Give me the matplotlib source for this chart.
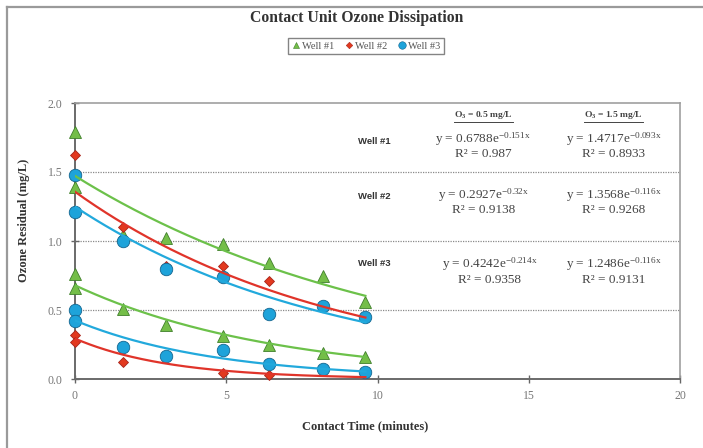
import numpy as np
import matplotlib
matplotlib.use("Agg")
import matplotlib.pyplot as plt
from matplotlib.lines import Line2D

# ---------------- data ----------------
title = "Contact Unit Ozone Dissipation"
series_names = ["Well #1", "Well #2", "Well #3"]

# Well #1 (two dose runs)
w1_high_x = [0, 0, 1.6, 3.0, 4.9, 6.4, 8.2, 9.6]
w1_high_y = [1.79, 1.39, 1.04, 1.02, 0.98, 0.84, 0.75, 0.56]
w1_low_x = [0, 0, 1.6, 3.0, 4.9, 6.4, 8.2, 9.6]
w1_low_y = [0.76, 0.66, 0.51, 0.39, 0.31, 0.25, 0.19, 0.16]

# Well #2
w2_high_x = [0, 1.6, 3.0, 4.9, 6.4, 8.2, 9.6]
w2_high_y = [1.62, 1.10, 0.82, 0.82, 0.71, 0.53, 0.44]
w2_low_x = [0, 0, 1.6, 4.9, 6.4]
w2_low_y = [0.32, 0.27, 0.12, 0.04, 0.03]

# Well #3
w3_high_x = [0, 0, 1.6, 3.0, 4.9, 6.4, 8.2, 9.6]
w3_high_y = [1.48, 1.21, 1.00, 0.80, 0.74, 0.47, 0.53, 0.45]
w3_low_x = [0, 0, 1.6, 3.0, 4.9, 6.4, 8.2, 9.6]
w3_low_y = [0.50, 0.42, 0.23, 0.17, 0.21, 0.11, 0.07, 0.05]

# exponential fit coefficients y = a * exp(b x) as printed on the chart
fit_low_a = [0.6788, 0.2927, 0.4242]
fit_low_b = [-0.151, -0.32, -0.214]
fit_low_r2 = ["0.987", "0.9138", "0.9358"]
fit_high_a = [1.4717, 1.3568, 1.2486]
fit_high_b = [-0.093, -0.116, -0.116]
fit_high_r2 = ["0.8933", "0.9268", "0.9131"]
fit_x_range = [0, 9.6]

dose_headers = ["0.5", "1.5"]
x_ticks = [0, 5, 10, 15, 20]
y_ticks = [0.0, 0.5, 1.0, 1.5, 2.0]

# ---------------- style ----------------
W, H = 703, 448
fig = plt.figure(figsize=(W / 100, H / 100), dpi=100)
serif = ["Liberation Serif", "DejaVu Serif"]
plt.rcParams["font.family"] = serif
plt.rcParams["mathtext.default"] = "regular"

ax = fig.add_axes([75 / W, 1 - 379 / H, 605 / W, 276 / H])
ax.set_xlim(0, 20)
ax.set_ylim(0, 2.0)

face = ["#74be48", "#e2391f", "#1ea3da"]
edge = ["#3f7f2a", "#a8241a", "#13658f"]
line_c = ["#6cc14a", "#e0342a", "#22a9dc"]
markers = ["^", "D", "o"]
msizes = [8, 5.5, 9]

data = [
    (w1_high_x, w1_high_y, w1_low_x, w1_low_y),
    (w2_high_x, w2_high_y, w2_low_x, w2_low_y),
    (w3_high_x, w3_high_y, w3_low_x, w3_low_y),
]

for i, (hx, hy, lx, ly) in enumerate(data):
    for xs, ys in ((hx, hy), (lx, ly)):
        ax.plot(xs, ys, linestyle="none", marker=markers[i], ms=msizes[i],
                mfc=face[i], mec=edge[i], mew=0.6, zorder=3 + i * 0.1,
                clip_on=False)

xx = np.linspace(fit_x_range[0], fit_x_range[1], 200)
for i in range(3):
    ax.plot(xx, fit_high_a[i] * np.exp(fit_high_b[i] * xx), color=line_c[i],
            lw=1.6, zorder=4)
    ax.plot(xx, fit_low_a[i] * np.exp(fit_low_b[i] * xx), color=line_c[i],
            lw=1.6, zorder=4)

# grid
for yv in y_ticks[1:-1]:
    ax.axhline(yv, color="#8a8a8a", lw=0.9, ls=(0, (1, 1)), zorder=1)

ax.set_xticks(x_ticks)
ax.set_yticks(y_ticks)
ax.set_yticklabels([f"{v:.1f}" for v in y_ticks])
ax.tick_params(axis="both", labelsize=8.5, colors="#666666", labelcolor="#777777",
               width=1)
ax.tick_params(axis="x", direction="inout", length=6, pad=5)
ax.tick_params(axis="y", direction="inout", length=6, pad=6)
for s in ["left", "bottom"]:
    ax.spines[s].set_color("#6a6a6a")
    ax.spines[s].set_linewidth(1.4)
for s in ["top", "right"]:
    ax.spines[s].set_color("#a0a0a0")
    ax.spines[s].set_linewidth(1.2)

ax.set_xlabel("Contact Time (minutes)", fontsize=9, fontweight="bold",
              color="#333333")
ax.xaxis.set_label_coords((365 - 75) / 605, -(426 - 379) / 276)
ax.set_ylabel("Ozone Residual (mg/L)", fontsize=9, fontweight="bold",
              color="#333333")
ax.yaxis.set_label_coords(-(75 - 24) / 605, (379 - 220) / 276)
ax.xaxis.label.set_va("center")
ax.yaxis.label.set_va("center")

fig.text(357 / W, 1 - 18 / H, title, ha="center", va="center",
         fontsize=11.3, fontweight="bold", color="#333333")

# legend
handles = [Line2D([], [], linestyle="none", marker=markers[i], ms=msizes[i] * 0.6,
                  mfc=face[i], mec=edge[i], mew=0.4) for i in range(3)]
leg = fig.legend(handles, series_names, loc="center",
                 bbox_to_anchor=(366 / W, 1 - 46 / H), ncol=3, fontsize=7.5,
                 handlelength=0.8, handletextpad=0.2, columnspacing=1.0,
                 borderpad=0.35, frameon=True, fancybox=False)
leg.get_frame().set_edgecolor("#666666")
leg.get_frame().set_linewidth(1.0)
for t in leg.get_texts():
    t.set_color("#555555")

# annotations
sans_bold = ["Liberation Sans", "DejaVu Sans"]
well_label_y = [1.72, 1.32, 0.84]
block_y = [1.695, 1.29, 0.785]
col_x = [13.5, 17.8]
for i in range(3):
    ax.text(9.9, well_label_y[i], series_names[i], family=sans_bold,
            fontweight="bold", fontsize=6.8, color="#333333", ha="center",
            va="center")
    for j, (a, b, r2) in enumerate(((fit_low_a[i], fit_low_b[i], fit_low_r2[i]),
                                    (fit_high_a[i], fit_high_b[i], fit_high_r2[i]))):
        cx = col_x[j] + (0.2 if i == 2 and j == 0 else 0)
        ax.text(cx, block_y[i], f"y = {a:.4f}e$^{{{b:g}x}}$\nR² = {r2}",
                fontsize=9.5, color="#444444", ha="center", va="center",
                multialignment="center", linespacing=1.05)

headers = []
for j, d in enumerate(dose_headers):
    headers.append(ax.text(col_x[j], 1.91, f"O$_3$ = {d} mg/L", fontsize=6.8,
                           fontweight="bold", color="#444444", ha="center",
                           va="center"))

fig.canvas.draw()
r = fig.canvas.get_renderer()
for t in headers:
    bb = t.get_window_extent(r)
    yline = (bb.y0 - 0.5) / fig.bbox.height
    fig.add_artist(Line2D([bb.x0 / fig.bbox.width, bb.x1 / fig.bbox.width],
                          [yline, yline], color="#444444", lw=0.7))

# outer chart border (top and left only visible in the crop)
fig.add_artist(Line2D([7 / W, 1.0], [1 - 7 / H, 1 - 7 / H], color="#9a9a9a", lw=1.6))
fig.add_artist(Line2D([7 / W, 7 / W], [0, 1 - 7 / H], color="#9a9a9a", lw=1.6))

fig.savefig("out.png", dpi=100)
